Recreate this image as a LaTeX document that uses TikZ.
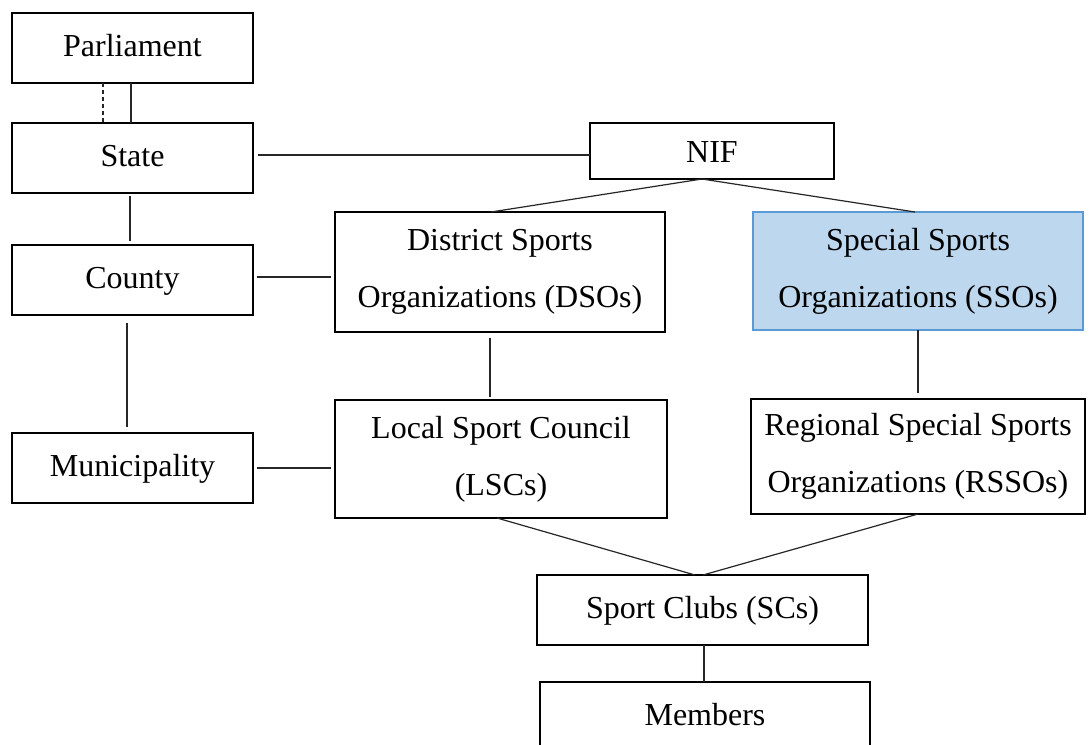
\documentclass[tikz,border=0pt]{standalone}
\usepackage{fontspec}
\setmainfont{Liberation Serif}
\begin{document}
\begin{tikzpicture}[x=1pt,y=-1pt,
  box/.style={draw=black,line width=2.8pt,rectangle,inner sep=0pt,outer sep=0pt,
    align=center,font=\fontsize{32}{57}\selectfont},
  onebox/.style={box,text height=22pt,text depth=6pt},
  twobox/.style={box},
  conn/.style={line width=1.2pt,draw=black!85},
  ssobox/.style={twobox,draw={rgb,255:red,91;green,155;blue,213},line width=2.2pt,
    fill={rgb,255:red,189;green,215;blue,238}}]
\clip (0,0) rectangle (1091,744);
\fill[white] (0,0) rectangle (1091,744);
\node[onebox,minimum width=241pt,minimum height=70pt] (parl) at (132.5,48) {Parliament};
\node[onebox,minimum width=241pt,minimum height=70pt] (state) at (132.5,158) {State};
\node[onebox,minimum width=241pt,minimum height=70pt] (county) at (132.5,280) {County};
\node[onebox,minimum width=241pt,minimum height=70pt] (muni) at (132.5,468) {Municipality};
\node[box,text height=22pt,text depth=0pt,minimum width=244pt,minimum height=56pt] (nif) at (712,151) {NIF};
\node[twobox,minimum width=330pt,minimum height=120pt] (dso) at (500,272) {District Sports\\Organizations (DSOs)};
\node[ssobox,minimum width=330pt,minimum height=118pt] (sso) at (918,271) {Special Sports\\Organizations (SSOs)};
\node[twobox,minimum width=332pt,minimum height=118pt] (lsc) at (501,459) {Local Sport Council\\(LSCs)};
\node[twobox,minimum width=334pt,minimum height=115pt] (rsso) at (918,456.5) {Regional Special Sports\\Organizations (RSSOs)};
\node[onebox,minimum width=331pt,minimum height=70pt] (sc) at (702.5,610) {Sport Clubs (SCs)};
\node[onebox,minimum width=330pt,minimum height=70pt] (mem) at (705,717) {Members};
% Parliament - State
\draw[conn,dashed,dash pattern=on 4pt off 3pt] ([xshift=-29.5pt]parl.south) -- ([xshift=-29.5pt]state.north);
\draw[conn] ([xshift=-1.5pt]parl.south) -- ([xshift=-1.5pt]state.north);
% State - County - Municipality
\draw[conn,shorten <=3pt,shorten >=4pt] ([xshift=-2.5pt]state.south) -- ([xshift=-2.5pt]county.north);
\draw[conn,shorten <=8pt,shorten >=6pt] ([xshift=-5.5pt]county.south) -- ([xshift=-5.5pt]muni.north);
% horizontal links
\draw[conn,shorten <=5pt] ([yshift=3pt]state.east) -- ([yshift=3pt]state.east -| nif.west);
\draw[conn,shorten <=4pt,shorten >=4pt] ([yshift=3pt]county.east) -- ([yshift=3pt]county.east -| dso.west);
\draw[conn,shorten <=4pt,shorten >=4pt] (muni.east) -- (muni.east -| lsc.west);
% NIF branches
\draw[conn] ([xshift=-10pt]nif.south) -- ([xshift=-9pt]dso.north);
\draw[conn] ([xshift=-10pt]nif.south) -- ([xshift=-3pt]sso.north);
% verticals
\draw[conn,shorten <=6pt,shorten >=3pt] ([xshift=-10pt]dso.south) -- ([xshift=-10pt]dso.south |- lsc.north);
\draw[conn,shorten >=6pt] (sso.south) -- (sso.south |- rsso.north);
% to Sport Clubs
\draw[conn] ([xshift=-4pt]lsc.south) -- ([xshift=-7.5pt]sc.north);
\draw[conn] (rsso.south) -- ([xshift=0.5pt]sc.north);
\draw[conn] ([xshift=1.5pt]sc.south) -- ([xshift=1.5pt]sc.south |- mem.north);
\end{tikzpicture}
\end{document}
